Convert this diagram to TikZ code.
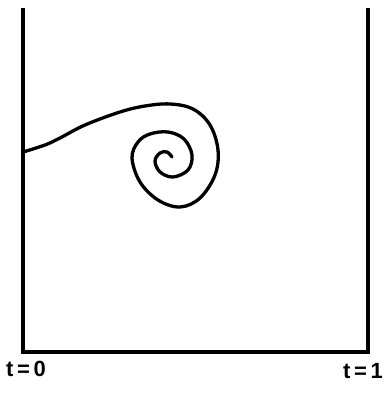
\documentclass[tikz,border=0pt]{standalone}
\usepackage{fontspec}
\setmainfont{Liberation Sans}
\begin{document}
\begin{tikzpicture}[x=1pt,y=-1pt,
  frame/.style={line width=3.2pt},
  curve/.style={line width=3.3pt,line cap=round,line join=round},
  lbl/.style={font=\bfseries\fontsize{22}{22}\selectfont,inner sep=0pt}]
\useasboundingbox (0,0) rectangle (383,393);
\coordinate (tl) at (23,8);
\coordinate (bl) at (23,352);
\coordinate (br) at (368,352);
\coordinate (tr) at (368,8);
\draw[frame] (tl) -- (bl) -- (br) -- (tr);
\coordinate (s) at (23,152);
\draw[curve] plot[smooth,tension=0.6] coordinates {
 (23,152) (45,145) (60,138) (85,125) (120,112) (145,106) (170,104) (193,109)
 (210,125) (218,150) (215,175) (200,198) (180,207) (158,200) (140,182) (132,158)
 (138,142) (150,134) (168,132) (184,139) (192,155) (188,170) (173,177) (160,172)
 (155,161) (160,153) (167,152) (172,157)};
\node[lbl] (t0) at (26,369) {t\,=\,0};
\node[lbl] (t1) at (363,371) {t\,=\,1};
\end{tikzpicture}
\end{document}
